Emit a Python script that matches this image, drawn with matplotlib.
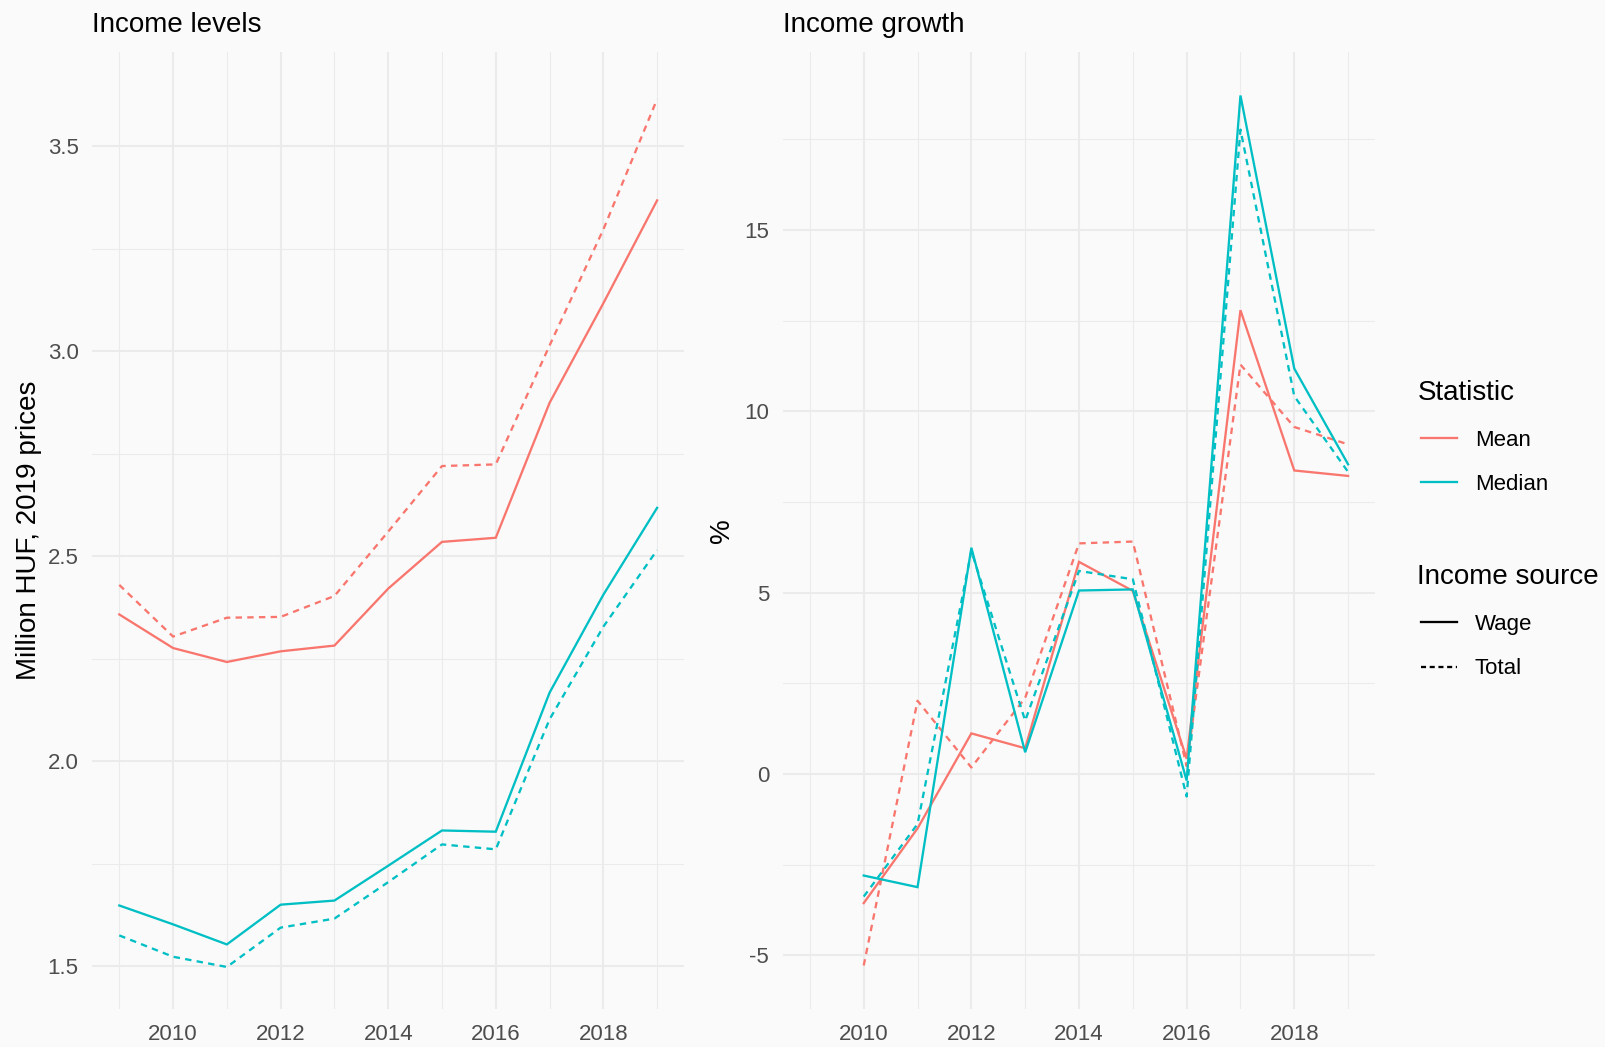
import matplotlib
matplotlib.use("Agg")
import matplotlib.pyplot as plt
from matplotlib.lines import Line2D
import numpy as np

plt.rcParams['font.family'] = ['Liberation Sans', 'DejaVu Sans']

# ---------------- data ----------------
years = [2009, 2010, 2011, 2012, 2013, 2014, 2015, 2016, 2017, 2018, 2019]

# Income levels (million HUF, 2019 prices)
mean_wage    = [2.358, 2.276, 2.242, 2.268, 2.282, 2.421, 2.535, 2.545, 2.874, 3.117, 3.368]
mean_total   = [2.430, 2.304, 2.350, 2.352, 2.403, 2.560, 2.720, 2.724, 3.014, 3.297, 3.615]
median_wage  = [1.648, 1.602, 1.553, 1.650, 1.660, 1.745, 1.831, 1.828, 2.167, 2.406, 2.618]
median_total = [1.575, 1.523, 1.498, 1.594, 1.616, 1.705, 1.797, 1.785, 2.102, 2.328, 2.515]

# Income growth (%), 2009 has no growth value
growth_years = [2010, 2011, 2012, 2013, 2014, 2015, 2016, 2017, 2018, 2019]
g_mean_wage    = [-3.56, -1.50, 1.12, 0.71, 5.85, 5.05, 0.42, 12.79, 8.37, 8.22]
g_mean_total   = [-5.28, 2.02, 0.18, 2.10, 6.36, 6.41, 0.22, 11.29, 9.57, 9.09]
g_median_wage  = [-2.80, -3.12, 6.24, 0.60, 5.06, 5.09, -0.18, 18.71, 11.18, 8.54]
g_median_total = [-3.38, -1.38, 6.15, 1.47, 5.60, 5.37, -0.62, 17.77, 10.42, 8.33]

statistics = ["Mean", "Median"]
sources = ["Wage", "Total"]
legend_titles = ["Statistic", "Income source"]
panel_titles = ["Income levels", "Income growth"]
y_titles = ["Million HUF, 2019 prices", "%"]
x_major = [2010, 2012, 2014, 2016, 2018]
x_minor = [2009, 2011, 2013, 2015, 2017, 2019]
left_major = [1.5, 2.0, 2.5, 3.0, 3.5]
left_minor = [1.75, 2.25, 2.75, 3.25]
right_major = [-5, 0, 5, 10, 15]
right_minor = [-2.5, 2.5, 7.5, 12.5, 17.5]

# ---------------- style ----------------
BG = "#FAFAFA"
GRID = "#EBEBEB"
COLORS = {"Mean": "#F8766D", "Median": "#00BFC4"}
LW = 1.65
DASH = (2.8, 2.3)
W, H = 1606, 1047

fig = plt.figure(figsize=(W / 100, H / 100), dpi=100, facecolor=BG)

def fx(px):
    return px / W

def fy(py):
    return 1 - py / H

ax_l = fig.add_axes([fx(92.4), fy(1009), fx(684) - fx(92.4), fy(52) - fy(1009)])
ax_r = fig.add_axes([fx(783), fy(1009), fx(1375) - fx(783), fy(52) - fy(1009)])


def style_axis(ax, ymaj, ymin, ylim):
    ax.set_facecolor(BG)
    for s in ax.spines.values():
        s.set_visible(False)
    ax.set_xlim(2008.5, 2019.5)
    ax.set_ylim(*ylim)
    ax.set_xticks(x_major)
    ax.set_xticks(x_minor, minor=True)
    ax.set_yticks(ymaj)
    ax.set_yticks(ymin, minor=True)
    ax.grid(True, which="major", color=GRID, linewidth=1.45)
    ax.grid(True, which="minor", color=GRID, linewidth=0.75)
    ax.set_axisbelow(True)
    ax.tick_params(which="both", length=0, labelsize=16, labelcolor="#4D4D4D")
    ax.tick_params(axis="y", pad=10)
    ax.tick_params(axis="x", pad=10.5)


style_axis(ax_l, left_major, left_minor, (1.3955, 3.730))
ax_l.set_yticklabels([f"{v:.1f}" for v in left_major])
style_axis(ax_r, right_major, right_minor, (-6.48, 19.91))
ax_r.set_yticklabels([str(v) for v in right_major])

# lines
level_data = {("Mean", "Wage"): mean_wage, ("Mean", "Total"): mean_total,
              ("Median", "Wage"): median_wage, ("Median", "Total"): median_total}
growth_data = {("Mean", "Wage"): g_mean_wage, ("Mean", "Total"): g_mean_total,
               ("Median", "Wage"): g_median_wage, ("Median", "Total"): g_median_total}

for (stat, src), vals in level_data.items():
    kw = dict(color=COLORS[stat], linewidth=LW, solid_joinstyle="miter")
    if src == "Total":
        kw.update(linestyle=(0, DASH))
    ax_l.plot(years, vals, **kw)

for (stat, src), vals in growth_data.items():
    kw = dict(color=COLORS[stat], linewidth=LW, solid_joinstyle="miter")
    if src == "Total":
        kw.update(linestyle=(0, DASH))
    ax_r.plot(growth_years, vals, **kw)

# titles
fig.text(fx(92.4), fy(32.3), panel_titles[0], fontsize=20, ha="left", va="baseline", color="black")
fig.text(fx(783), fy(32.3), panel_titles[1], fontsize=20, ha="left", va="baseline", color="black")

# axis titles
fig.text(fx(28.7), fy(530.5), y_titles[0], fontsize=20, rotation=90, ha="center", va="center")
fig.text(fx(722), fy(530.5), y_titles[1], fontsize=20, rotation=90, ha="center", va="center")

# legends (titles drawn separately so they can sit slightly left of the keys)
stat_handles = [Line2D([], [], color=COLORS[s], linewidth=LW) for s in statistics]
src_handles = [Line2D([], [], color="black", linewidth=LW, linestyle="-"),
               Line2D([], [], color="black", linewidth=LW, linestyle=(0, (2.2, 1.6)))]

leg_kw = dict(frameon=False, fontsize=16, handlelength=1.62,
              handletextpad=0.8, labelspacing=1.05, borderpad=0, borderaxespad=0,
              loc="upper left")
fig.legend(stat_handles, statistics, bbox_to_anchor=(fx(1421), fy(429.5)), **leg_kw)
fig.legend(src_handles, sources, bbox_to_anchor=(fx(1421), fy(614)), **leg_kw)
fig.text(fx(1417.5), fy(390), legend_titles[0], fontsize=20, ha="left", va="center_baseline")
fig.text(fx(1417.5), fy(574), legend_titles[1], fontsize=20, ha="left", va="center_baseline")

fig.savefig("out.png", dpi=100, facecolor=BG)
